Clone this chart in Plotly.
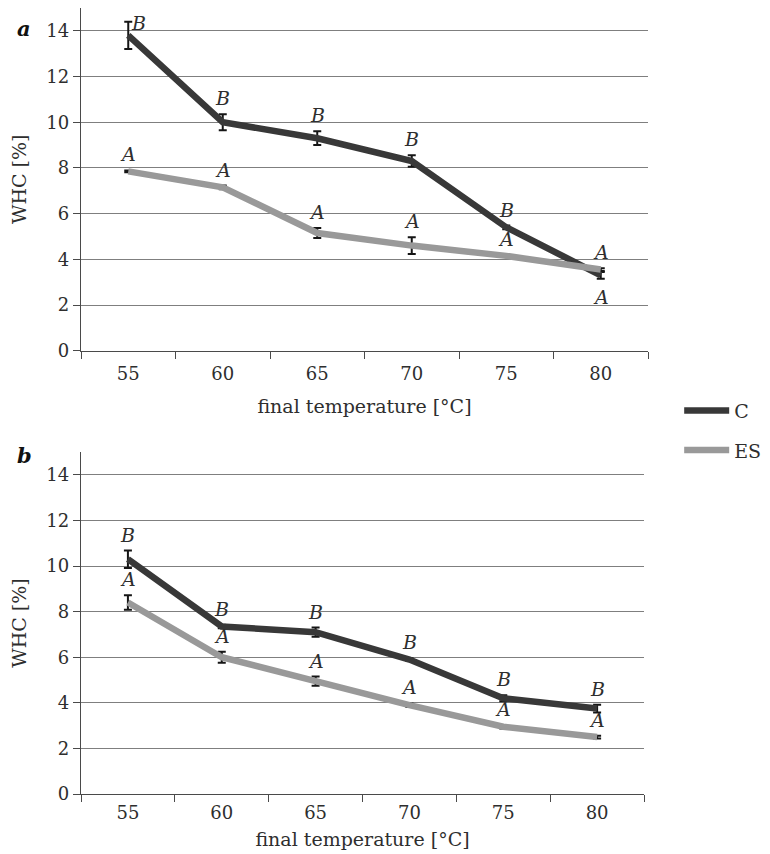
import plotly.graph_objects as go

# ---------------- data ----------------
temps = ["55", "60", "65", "70", "75", "80"]

# panel a
a_C = [13.8, 10.0, 9.3, 8.3, 5.4, 3.3]
a_C_err = [0.6, 0.35, 0.3, 0.25, 0.08, 0.15]
a_C_letters = ["B", "B", "B", "B", "B", "A"]
a_ES = [7.85, 7.15, 5.15, 4.6, 4.15, 3.55]
a_ES_err = [0.04, 0.08, 0.22, 0.37, 0.04, 0.06]
a_ES_letters = ["A", "A", "A", "A", "A", "A"]

# panel b
b_C = [10.3, 7.35, 7.1, 5.9, 4.2, 3.75]
b_C_err = [0.38, 0.08, 0.2, 0.06, 0.13, 0.17]
b_C_letters = ["B", "B", "B", "B", "B", "B"]
b_ES = [8.4, 6.0, 4.95, 3.9, 2.95, 2.5]
b_ES_err = [0.32, 0.24, 0.2, 0.08, 0.08, 0.06]
b_ES_letters = ["A", "A", "A", "A", "A", "A"]

series_names = ["C", "ES"]
panel_labels = ["a", "b"]
x_title = "final temperature [°C]"
y_title = "WHC [%]"

# ---------------- style ----------------
FONT = "DejaVu Serif"
TXT = "#2e2e2e"
COL = {"C": "#383838", "ES": "#999999"}
GRID = "#7f7f7f"
AX = "#4a4a4a"

fig = go.Figure()

panels = [
    ("x", "y", [("C", a_C, a_C_err, a_C_letters), ("ES", a_ES, a_ES_err, a_ES_letters)], True),
    ("x2", "y2", [("C", b_C, b_C_err, b_C_letters), ("ES", b_ES, b_ES_err, b_ES_letters)], False),
]

annotations = []
for xa, ya, sers, show in panels:
    for name, vals, errs, letters in sers:
        fig.add_trace(go.Scatter(
            x=temps, y=vals, mode="lines", name=name,
            xaxis=xa, yaxis=ya, showlegend=show, legendgroup=name,
            line=dict(color=COL[name], width=6.5),
            error_y=dict(type="data", array=errs, visible=True,
                         color="#151515", thickness=2, width=4),
        ))
        # significance letters (category index used as x position)
        for i, (v, e, L) in enumerate(zip(vals, errs, letters)):
            below = (name == "C" and xa == "x" and i == len(vals) - 1)
            top = v + e
            if below:
                y, ys, xs = v - e, -18, 0
            elif top > 14.2:
                y, ys, xs = top, -1, 10
            else:
                y, ys, xs = top, 16, 0
            annotations.append(dict(
                x=i, y=y, xref=xa, yref=ya, text=f"<i>{L}</i>",
                showarrow=False, yshift=ys, xshift=xs,
                font=dict(family=FONT, size=19, color=TXT),
            ))

# panel letters
for lab, yp in zip(panel_labels, [0.992, 0.431]):
    annotations.append(dict(
        x=-0.116, y=yp, xref="paper", yref="paper", text=f"<b><i>{lab}</i></b>",
        showarrow=False, font=dict(family=FONT, size=21, color="#111111"),
    ))

xcommon = dict(
    type="category", range=[-0.5, 5.5], tickson="boundaries",
    ticks="outside", ticklen=7, tickcolor=AX, tickwidth=1.2,
    showline=True, linecolor=AX, linewidth=1.4, showgrid=False,
    tickfont=dict(family=FONT, size=18, color=TXT),
)
ycommon = dict(
    range=[0, 15], tick0=0, dtick=2, showgrid=True, gridcolor=GRID, gridwidth=1.2,
    ticks="outside", ticklen=7, tickcolor=AX, tickwidth=1.2,
    showline=True, linecolor=AX, linewidth=1.4, zeroline=False,
    tickfont=dict(family=FONT, size=18, color=TXT),
)

fig.update_layout(
    width=770, height=854,
    margin=dict(l=73, r=130, t=0, b=68),
    paper_bgcolor="white", plot_bgcolor="white",
    font=dict(family=FONT, color=TXT),
    xaxis=dict(xcommon, domain=[0, 1], anchor="y", ticklabelstandoff=7,
               title=dict(text=x_title, standoff=16, font=dict(family=FONT, size=19, color=TXT))),
    yaxis=dict(ycommon, domain=[0.564, 1.0], anchor="x",
               title=dict(text=y_title, standoff=16, font=dict(family=FONT, size=19, color=TXT))),
    xaxis2=dict(xcommon, domain=[0, 0.993], anchor="y2", ticklabelstandoff=2,
                title=dict(text=x_title, standoff=10, font=dict(family=FONT, size=19, color=TXT))),
    yaxis2=dict(ycommon, domain=[0.0, 0.435], anchor="x2",
                title=dict(text=y_title, standoff=16, font=dict(family=FONT, size=19, color=TXT))),
    legend=dict(x=1.055, y=0.512, xanchor="left", yanchor="top",
                font=dict(family=FONT, size=19, color=TXT), itemwidth=45,
                tracegroupgap=12, bgcolor="rgba(0,0,0,0)"),
    annotations=annotations,
)

fig.write_html("out.html")
